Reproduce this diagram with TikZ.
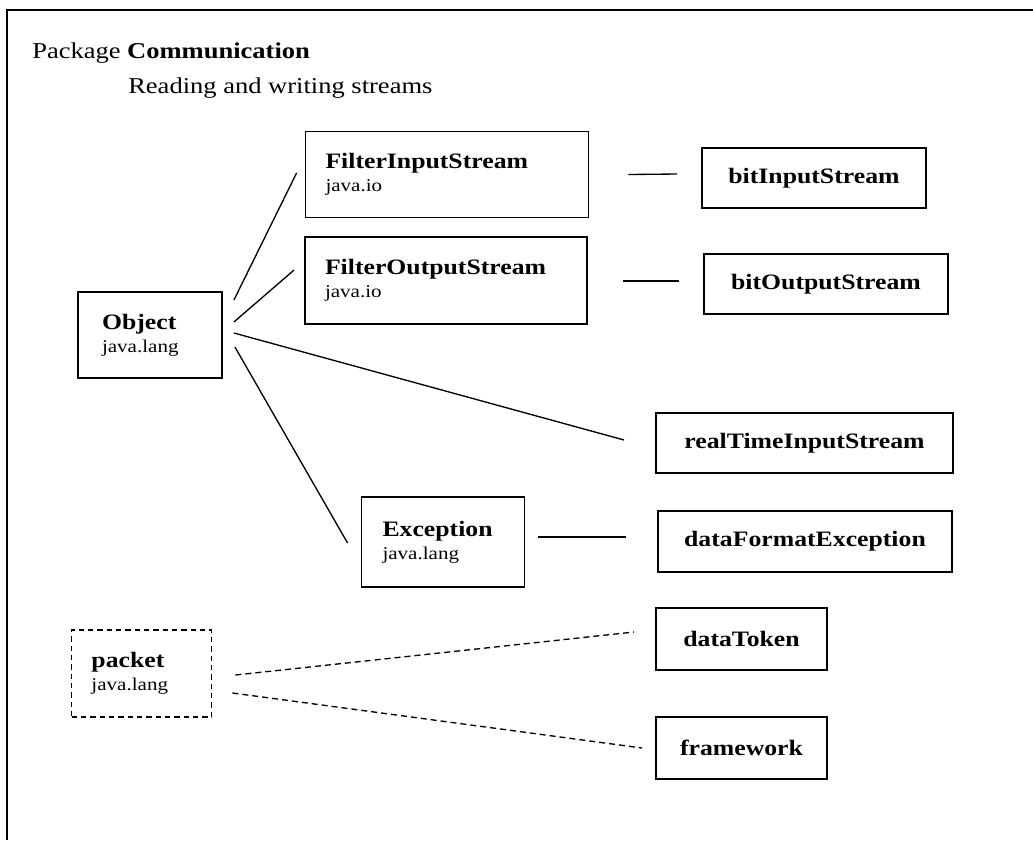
\documentclass[tikz,border=0pt]{standalone}
\usepackage{fontspec}
\setmainfont{Liberation Serif}[FakeStretch=1.17]
\usepackage{tikz}
\usetikzlibrary{positioning}
\newcommand{\cname}[1]{{\fontsize{16.5}{17.5}\selectfont\bfseries #1}}

\begin{document}
\begin{tikzpicture}[
  x=0.75pt, y=-0.75pt,
  cls/.style={rectangle, draw, line width=1.4pt, align=left,
    inner xsep=15pt, font=\fontsize{13.5}{17.5}\selectfont},
  leaf/.style={rectangle, draw, line width=1.4pt, minimum height=45pt,
    font=\fontsize{16.5}{20}\selectfont\bfseries},
  link/.style={line width=1pt},
  dlink/.style={line width=1pt, dash pattern=on 4.5pt off 3pt},
]
\useasboundingbox (0,0) rectangle (1033,840);
%% Package frame (top and left edges)
\draw[line width=2pt] (1033,10) -- (7,10) -- (7,840);
%% Package heading
\node[anchor=base west, inner sep=0pt, font=\fontsize{17}{20}\selectfont]
  (title) at (32,58) {Package \textbf{Communication}};
\node[anchor=base west, inner sep=0pt, font=\fontsize{17}{20}\selectfont]
  (subtitle) at (128,93) {Reading and writing streams};
%% Library classes
\node[cls, inner xsep=18pt, text width=72pt, minimum height=64.5pt]
  (obj) at (150,335) {\cname{Object}\\java.lang};
\node[cls, text width=182.25pt, minimum height=64.5pt]
  (fis) at (447,174.5) {\cname{FilterInputStream}\\java.io};
\node[cls, text width=181.5pt, minimum height=65.25pt]
  (fos) at (446,280.5) {\cname{FilterOutputStream}\\java.io};
\node[cls, inner xsep=15.75pt, text width=90.75pt, minimum height=67.5pt]
  (exc) at (443,542) {\cname{Exception}\\java.lang};
\node[cls, dashed, dash pattern=on 4pt off 3pt, inner xsep=15pt,
      text width=75pt, minimum height=65.25pt]
  (pkt) at (141.5,673.5) {\cname{packet}\\java.lang};
%% Package classes
\node[leaf, minimum width=168pt]    (bis)  at (814,178)    {bitInputStream};
\node[leaf, minimum width=183pt]    (bos)  at (826,284)    {bitOutputStream};
\node[leaf, minimum width=222.75pt] (rtis) at (804.5,443)  {realTimeInputStream};
\node[leaf, minimum width=220.5pt, minimum height=45.75pt]
  (dfe) at (805,541.5) {dataFormatException};
\node[leaf, minimum width=128.25pt, minimum height=46.5pt]
  (tok) at (741.5,639) {dataToken};
\node[leaf, minimum width=128.25pt, minimum height=46.5pt]
  (fw)  at (741.5,748) {framework};
%% Connectors from Object
\draw[link] ([shift={(11,-35)}]obj.east) -- ([shift={(-8,-1.5)}]fis.west);
\draw[link] ([shift={(11,-13)}]obj.east) -- ([shift={(-10,-10.5)}]fos.west);
\draw[link] ([shift={(11,-2)}]obj.east)  -- ([shift={(-31,-3)}]rtis.west);
\draw[link] ([shift={(12,12)}]obj.east)  -- ([shift={(-13,1)}]exc.west);
%% Subclasses
\draw[link] ([shift={(39,0)}]fis.east)    -- ([shift={(-24,-4)}]bis.west);
\draw[link] ([shift={(35,0.5)}]fos.east)  -- ([shift={(-24,-3)}]bos.west);
\draw[link] ([shift={(13,-5)}]exc.east)   -- ([shift={(-31,-4.5)}]dfe.west);
%% Uses of packet
\draw[dlink] ([shift={(23,1.5)}]pkt.east)  -- ([shift={(-21,-7)}]tok.west);
\draw[dlink] ([shift={(20,19.5)}]pkt.east) -- ([shift={(-13,0)}]fw.west);
\end{tikzpicture}
\end{document}
